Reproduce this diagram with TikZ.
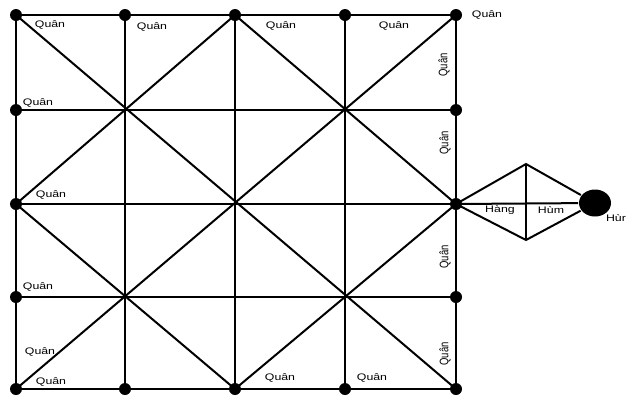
\documentclass[tikz,border=0pt]{standalone}
\usepackage{fontspec}
\setmainfont{Liberation Sans}
\usetikzlibrary{shapes.geometric}
\begin{document}
\begin{tikzpicture}[x=1pt,y=-1pt,line width=2pt,
  dot/.style={circle,fill=black,draw=none,inner sep=0pt,minimum size=12pt},
  bigdot/.style={ellipse,fill=black,draw=none,inner sep=0pt,minimum width=32pt,minimum height=27pt},
  lbl/.style={font=\fontsize{9.5}{11}\selectfont,inner sep=0pt,xscale=1.3},
  vlbl/.style={lbl,rotate=90}]
\useasboundingbox (0,0) rectangle (629,397);
\foreach \i/\x in {0/16,1/125,2/235,3/345,4/456}
  \foreach \j/\y in {0/15,1/110,2/204,3/297,4/389}
    \coordinate (p\i\j) at (\x,\y);
\coordinate (dt) at (526,164);
\coordinate (db) at (526,240);
\node[bigdot] (hur) at (595,203) {};
% grid
\foreach \k in {0,...,4} {
  \draw (p\k0) -- (p\k4);
  \draw (p0\k) -- (p4\k);
}
% diagonals
\draw (p00) -- (p44);
\draw (p40) -- (p04);
\draw (p02) -- (p20) -- (p42) -- (p24) -- cycle;
% tail
\draw (p42) -- (dt) -- (hur);
\draw (p42) -- (db) -- (hur);
\draw (dt) -- (db);
\draw (p42) -- (hur);
% dots
\foreach \p in {p00,p10,p20,p30,p40,p01,p02,p03,p04,p14,p24,p34,p44,p41,p42,p43}
  \node[dot] at (\p) {};
% labels
\node[lbl] (q1) at (50,25) {Quân};
\node[lbl] (q2) at (152,27) {Quân};
\node[lbl] (q3) at (38,103) {Quân};
\node[lbl] (q4) at (281,26) {Quân};
\node[lbl] (q5) at (394,26) {Quân};
\node[lbl] (q6) at (487,15) {Quân};
\node[vlbl] (q7) at (444,65) {Quân};
\node[vlbl] (q8) at (445,143) {Quân};
\node[vlbl] (q9) at (445,257) {Quân};
\node[vlbl] (q10) at (445,354) {Quân};
\node[lbl] (q11) at (51,195) {Quân};
\node[lbl] (q12) at (38,287) {Quân};
\node[lbl] (q13) at (40,352) {Quân};
\node[lbl] (q14) at (51,382) {Quân};
\node[lbl] (q15) at (280,378) {Quân};
\node[lbl] (q16) at (372,378) {Quân};
\node[lbl] (hang) at (500,210) {Hàng};
\node[lbl] (hum) at (551,210) {Hùm};
\node[lbl] (hurl) at (616,218) {Hùr};
\end{tikzpicture}
\end{document}
